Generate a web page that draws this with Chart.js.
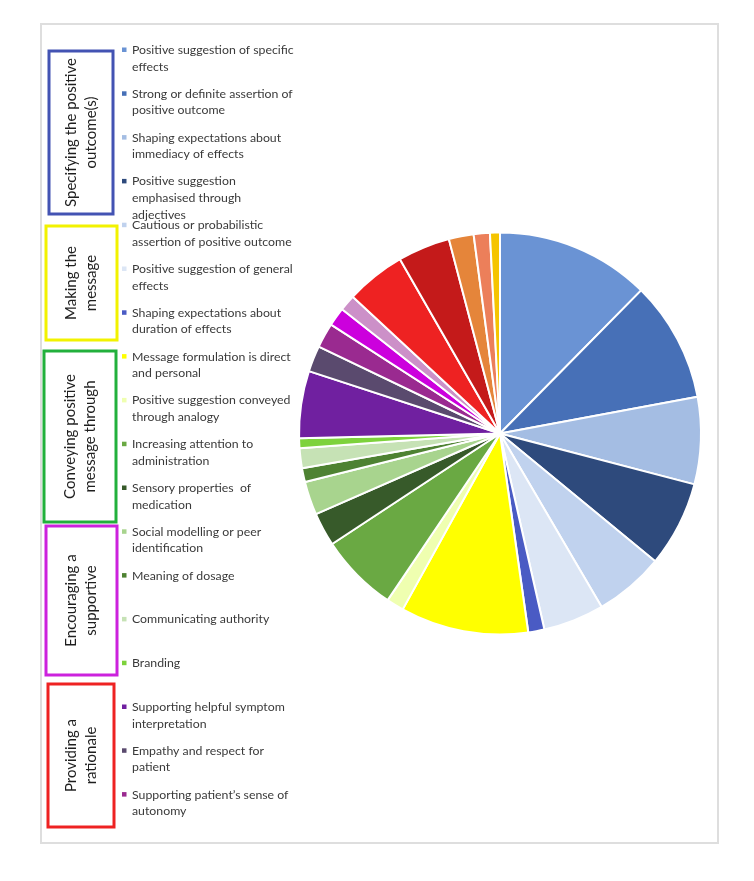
<!DOCTYPE html>
<html>
<head>
<meta charset="utf-8">
<script src="https://cdn.jsdelivr.net/npm/chart.js@4"></script>
<style>
  html, body { margin: 0; padding: 0; background: #fff; }
  #wrap { position: relative; width: 754px; height: 881px; }
</style>
</head>
<body>
<div id="wrap"><canvas id="pieChart" width="754" height="881"></canvas></div>
<script>
// categories (last few slices have no legend entry in the source figure)
const categories = [
  ['Positive suggestion of specific', 'effects'],
  ['Strong or definite assertion of', 'positive outcome'],
  ['Shaping expectations about', 'immediacy of effects'],
  ['Positive suggestion', 'emphasised through', 'adjectives'],
  ['Cautious or probabilistic', 'assertion of positive outcome'],
  ['Positive suggestion of general', 'effects'],
  ['Shaping expectations about', 'duration of effects'],
  ['Message formulation is direct', 'and personal'],
  ['Positive suggestion conveyed', 'through analogy'],
  ['Increasing attention to', 'administration'],
  ['Sensory properties  of', 'medication'],
  ['Social modelling or peer', 'identification'],
  'Meaning of dosage',
  'Communicating authority',
  'Branding',
  ['Supporting helpful symptom', 'interpretation'],
  ['Empathy and respect for', 'patient'],
  ['Supporting patient\u2019s sense of', 'autonomy'],
  '', '', '', '', '', '', ''
];

// share of each slice (%)
const values = [12.4, 9.7, 7.0, 6.9, 5.6, 4.9, 1.3, 10.3, 1.4, 6.3, 2.7, 2.7, 1.1,
                1.6, 0.8, 5.4, 2.1, 2.0, 1.5, 1.3, 4.8, 4.2, 2.0, 1.3, 0.8];

const colors = ['#6a93d4', '#4770b7', '#a4bde3', '#2e4a7c', '#c0d2ee', '#dce6f5', '#4a5bc4',
                '#ffff00', '#efffb0', '#6aa943', '#375a2a', '#a8d48e', '#4e8232', '#c6e2b5',
                '#7dd23c', '#7020a0', '#5a4a6e', '#9a2a90', '#cc00dd', '#cc90c8', '#ee2222',
                '#c41a1a', '#e5853a', '#ec7f5a', '#f5c400'];

// group labels shown in the coloured boxes at the left
const groupNames = [
  ['Specifying the positive', 'outcome(s)'],
  ['Making the', 'message'],
  ['Conveying positive', 'message through'],
  ['Encouraging a', 'supportive'],
  ['Providing a', 'rationale']
];
const groupColors = ['#4353b3', '#f2f200', '#22b03c', '#cc22dd', '#ee2222'];
const groupBoxes = [[49, 51, 64, 163], [46, 226, 71, 114], [44, 351, 72, 171],
                    [46, 526, 71, 149], [48, 684, 66, 143]];

const sidePanel = {
  id: 'sidePanel',
  beforeDraw(chart) {
    const c = chart.ctx;
    c.save();
    c.strokeStyle = '#dedede';
    c.lineWidth = 2;
    c.strokeRect(41, 24, 677, 819);
    c.restore();
  },
  afterDraw(chart) {
    const c = chart.ctx;
    c.save();
    // group boxes with rotated text
    groupBoxes.forEach((b, i) => {
      c.strokeStyle = groupColors[i];
      c.lineWidth = 3;
      c.strokeRect(b[0], b[1], b[2], b[3]);
      c.save();
      c.translate(b[0] + b[2] / 2, b[1] + b[3] / 2);
      c.rotate(-Math.PI / 2);
      c.fillStyle = '#1e1e1e';
      c.font = '15px Lato';
      c.textAlign = 'center';
      c.textBaseline = 'middle';
      const lines = groupNames[i];
      lines.forEach((t, k) => {
        c.fillText(t, 0, (k - (lines.length - 1) / 2) * 20);
      });
      c.restore();
    });
    // legend entries
    const labels = chart.data.labels;
    const bg = chart.data.datasets[0].backgroundColor;
    c.font = '12.3px Lato';
    c.textAlign = 'left';
    c.textBaseline = 'middle';
    let y = 50;
    labels.forEach((lab, i) => {
      if (!lab || lab.length === 0) return;
      const lines = Array.isArray(lab) ? lab : [lab];
      c.fillStyle = bg[i];
      c.fillRect(122, y - 2.5, 4.5, 4.5);
      c.fillStyle = '#3a3a3a';
      lines.forEach((t, k) => c.fillText(t, 132, y + k * 16.6));
      y += 43.8;
    });
    c.restore();
  }
};

const ctx = document.getElementById('pieChart');
new Chart(ctx, {
  type: 'pie',
  data: {
    labels: categories,
    datasets: [{
      data: values,
      backgroundColor: colors,
      borderColor: '#ffffff',
      borderWidth: 2
    }]
  },
  options: {
    responsive: false,
    animation: false,
    layout: { padding: { left: 298, right: 52, top: 231, bottom: 245 } },
    plugins: {
      legend: { display: false },
      tooltip: { enabled: false }
    }
  },
  plugins: [sidePanel]
});
</script>
</body>
</html>
